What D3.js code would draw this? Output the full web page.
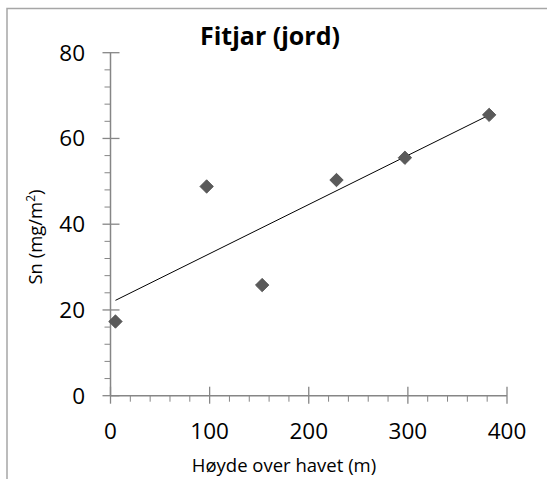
<!DOCTYPE html>
<html>
<head>
<meta charset="utf-8">
<script src="https://cdn.jsdelivr.net/npm/d3@7"></script>
<style>
  html, body { margin: 0; padding: 0; background: #fff; }
  svg { display: block; }
  text { font-family: "Open Sans", "Noto Sans", sans-serif; fill: #000; }
</style>
</head>
<body>
<svg id="chart" width="547" height="479"></svg>
<script>
// Elevation above sea level (m) and tin deposition in soil (mg/m²), Fitjar
const heights = [5, 97, 153, 228, 297, 382];
const tin = [17.3, 48.8, 25.8, 50.3, 55.5, 65.5];
const xTicks = [0, 100, 200, 300, 400];
const yTicks = [0, 20, 40, 60, 80];
const title = "Fitjar (jord)";
const xTitle = "Høyde over havet (m)";

const svg = d3.select("#chart");
const axisColor = "#868686";

// chart frame (top and left edges visible)
svg.append("path")
  .attr("d", "M7,479 V8.5 H547")
  .attr("fill", "none")
  .attr("stroke", "#a6a6a6")
  .attr("stroke-width", 1.5);

const x = d3.scaleLinear().domain([0, 400]).range([110.5, 507]);
const y = d3.scaleLinear().domain([0, 80]).range([395.7, 52.7]);

// minor ticks
const xMinor = d3.range(0, 401, 20).filter(v => v % 100 !== 0);
const yMinor = d3.range(0, 81, 4).filter(v => v % 20 !== 0);

const g = svg.append("g");
g.selectAll(".xminor").data(xMinor).join("line")
  .attr("x1", d => x(d)).attr("x2", d => x(d))
  .attr("y1", y(0)).attr("y2", y(0) + 6)
  .attr("stroke", axisColor).attr("stroke-width", 1);
g.selectAll(".yminor").data(yMinor).join("line")
  .attr("x1", x(0) - 6).attr("x2", x(0))
  .attr("y1", d => y(d)).attr("y2", d => y(d))
  .attr("stroke", axisColor).attr("stroke-width", 1);

// major ticks crossing the axes
g.selectAll(".xmajor").data(xTicks).join("line")
  .attr("x1", d => x(d)).attr("x2", d => x(d))
  .attr("y1", y(0) - 9).attr("y2", y(0) + 8)
  .attr("stroke", axisColor).attr("stroke-width", 1.3);
g.selectAll(".ymajor").data(yTicks).join("line")
  .attr("x1", x(0) - 8).attr("x2", x(0) + 9)
  .attr("y1", d => y(d)).attr("y2", d => y(d))
  .attr("stroke", axisColor).attr("stroke-width", 1.3);

// axis lines
g.append("line").attr("x1", x(0)).attr("x2", x(400)).attr("y1", y(0)).attr("y2", y(0))
  .attr("stroke", axisColor).attr("stroke-width", 1.5);
g.append("line").attr("x1", x(0)).attr("x2", x(0)).attr("y1", y(0)).attr("y2", y(80))
  .attr("stroke", axisColor).attr("stroke-width", 1.5);

// tick labels
g.selectAll(".xlab").data(xTicks).join("text")
  .attr("x", d => x(d)).attr("y", 438.5)
  .attr("text-anchor", "middle")
  .attr("font-size", 22.5)
  .text(d => d);
g.selectAll(".ylab").data(yTicks).join("text")
  .attr("x", 85).attr("y", d => y(d) + 7.8)
  .attr("text-anchor", "end")
  .attr("font-size", 22.5)
  .text(d => d);

// linear trendline (least squares)
const n = heights.length;
const mx = d3.mean(heights), my = d3.mean(tin);
let sxy = 0, sxx = 0;
for (let i = 0; i < n; i++) {
  sxy += (heights[i] - mx) * (tin[i] - my);
  sxx += (heights[i] - mx) ** 2;
}
const slope = sxy / sxx, intercept = my - slope * mx;
const x0 = d3.min(heights), x1 = d3.max(heights);
svg.append("line")
  .attr("x1", x(x0)).attr("y1", y(intercept + slope * x0))
  .attr("x2", x(x1)).attr("y2", y(intercept + slope * x1))
  .attr("stroke", "#000").attr("stroke-width", 1);

// diamond markers
svg.selectAll(".pt").data(heights.map((h, i) => [h, tin[i]])).join("path")
  .attr("d", d3.symbol().type(d3.symbolSquare).size(90)())
  .attr("transform", d => `translate(${x(d[0])},${y(d[1])}) rotate(45)`)
  .attr("fill", "#5a5a5a")
  .attr("stroke", "#505050")
  .attr("stroke-width", 0.8);

// titles
svg.append("text").attr("x", 270).attr("y", 44.5)
  .attr("text-anchor", "middle").attr("font-size", 25).attr("font-weight", "bold")
  .text(title);
svg.append("text").attr("x", 284).attr("y", 471.5)
  .attr("text-anchor", "middle").attr("font-size", 18.5)
  .text(xTitle);
const yt = svg.append("text")
  .attr("transform", "translate(41.5,237) rotate(-90)")
  .attr("text-anchor", "middle").attr("font-size", 18.5);
yt.append("tspan").text("Sn (mg/m");
yt.append("tspan").attr("font-size", 12).attr("dy", -7).text("2");
yt.append("tspan").attr("dy", 7).text(")");
</script>
</body>
</html>
